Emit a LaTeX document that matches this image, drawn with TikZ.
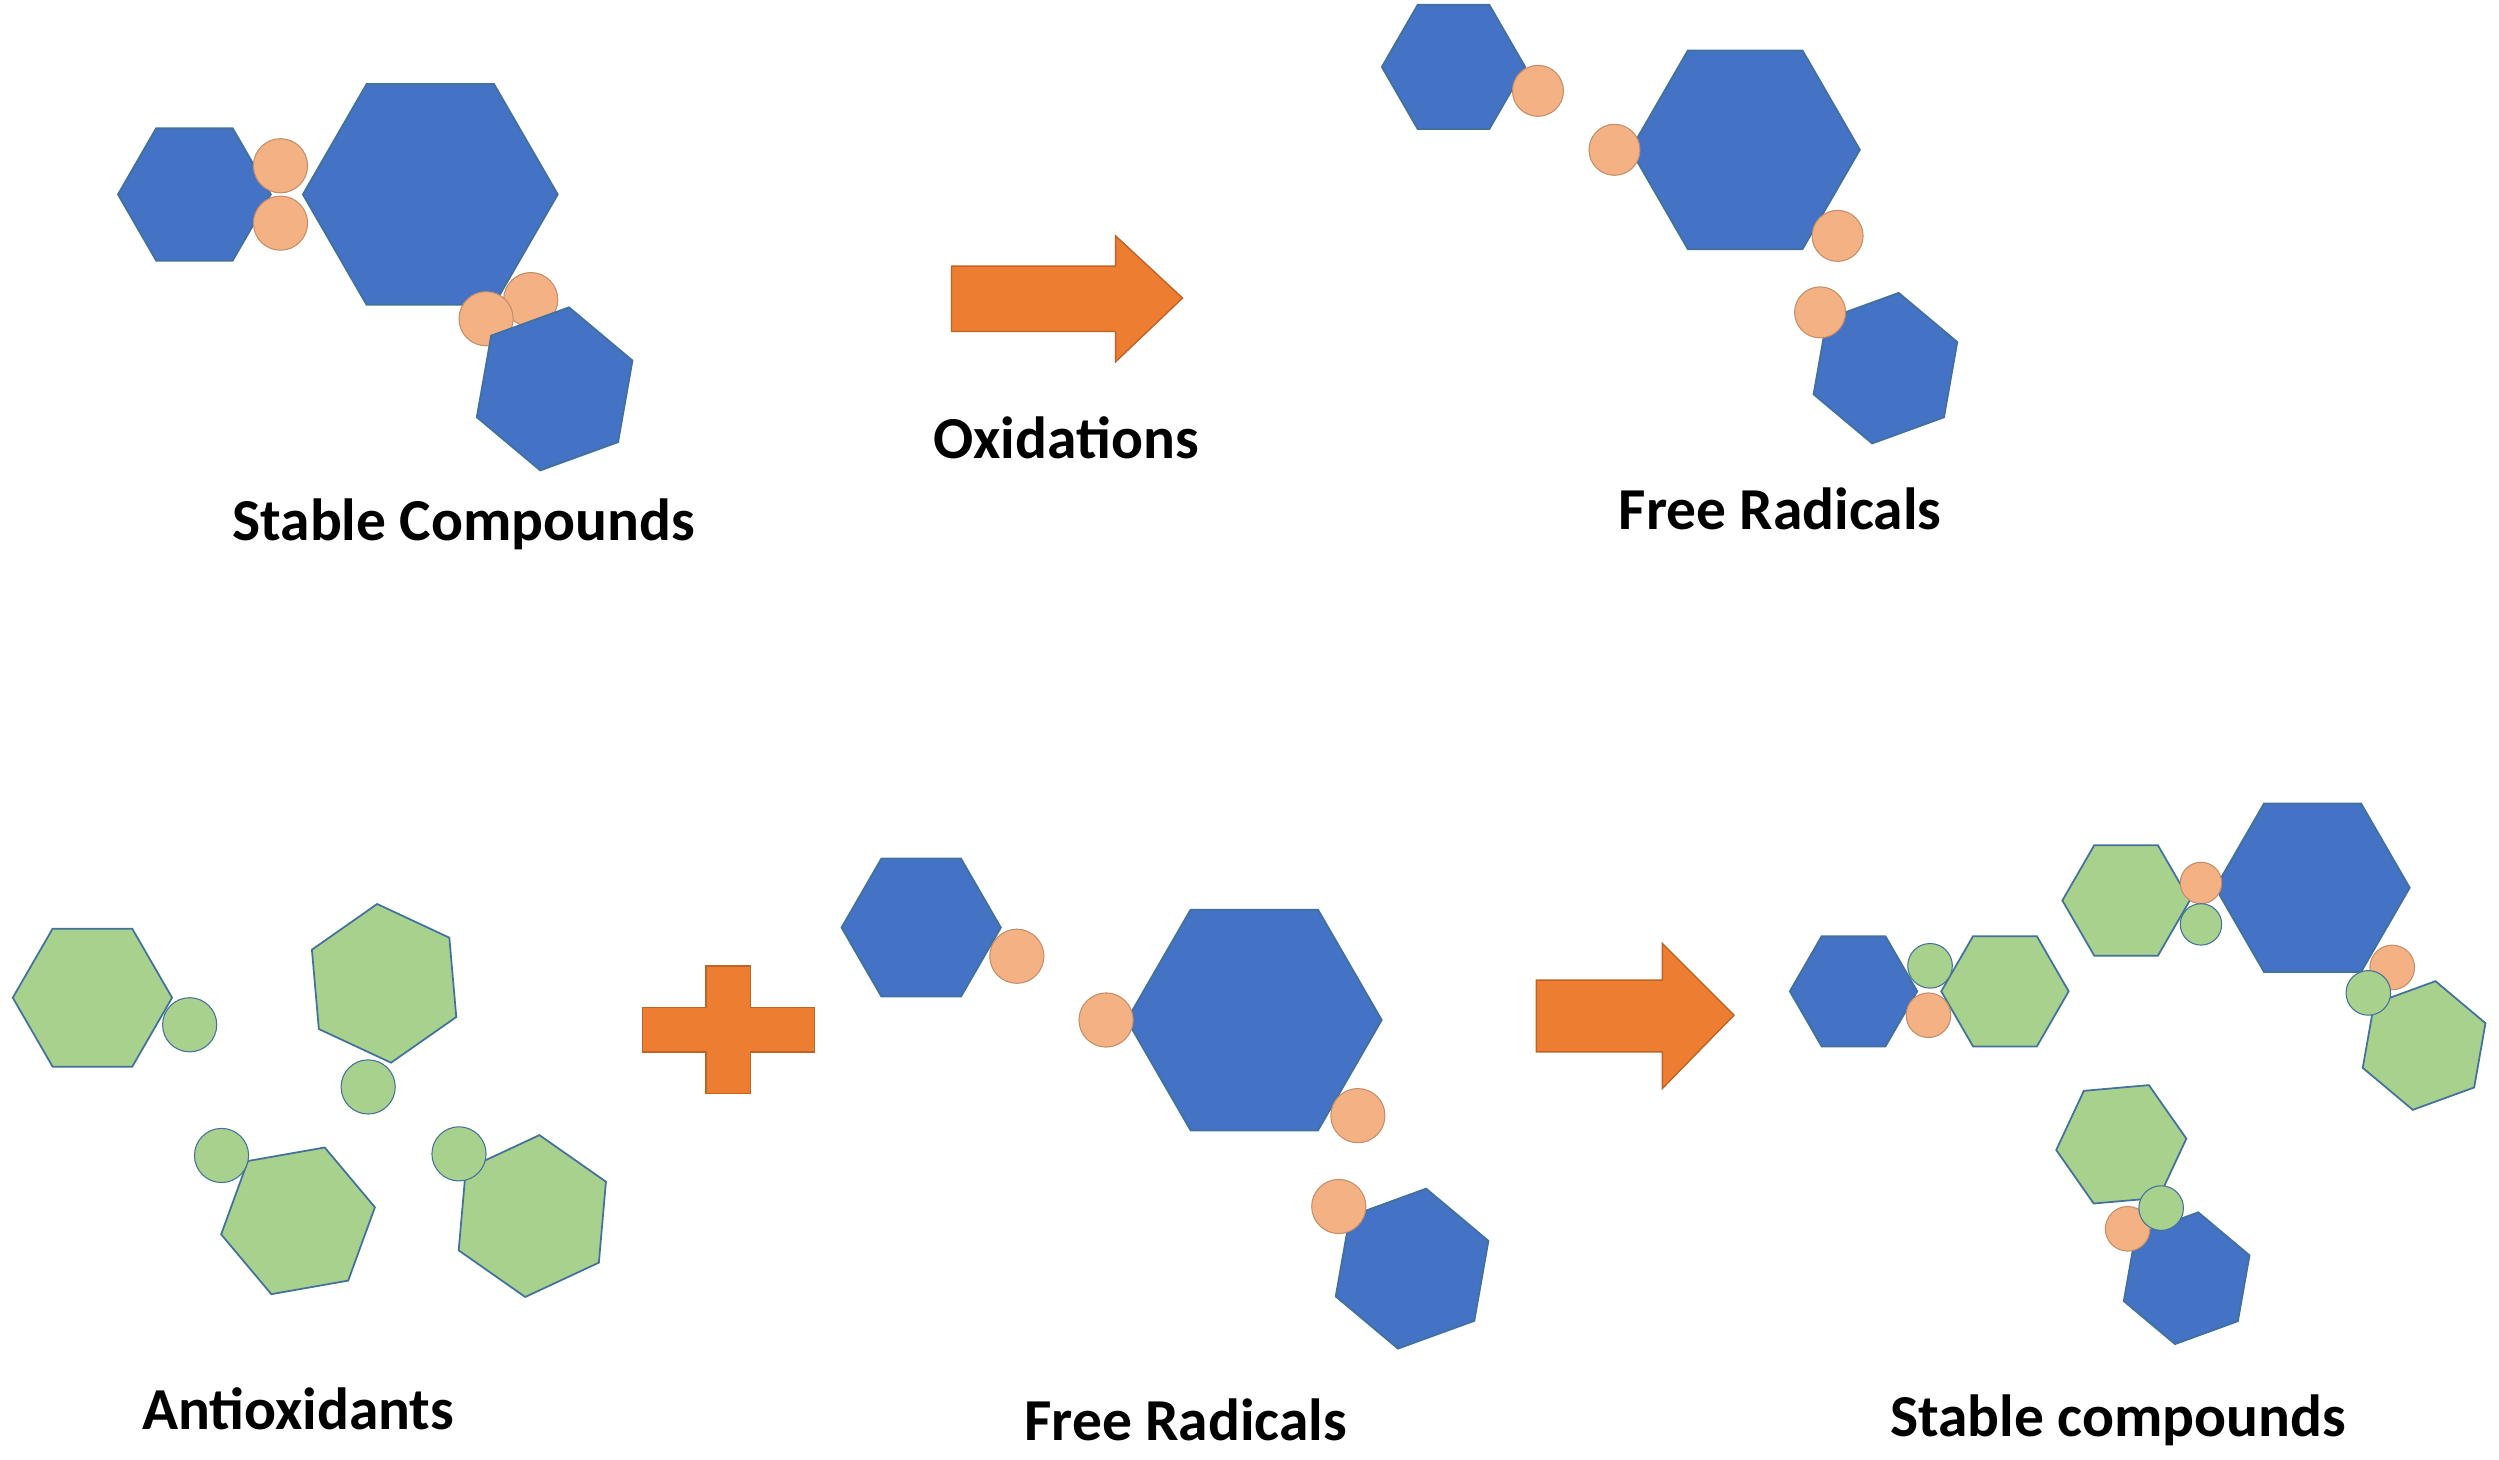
\documentclass[tikz,border=0pt]{standalone}
\usepackage{fontspec}
\setmainfont{Carlito}
\usetikzlibrary{shapes.geometric}
\definecolor{molblue}{HTML}{4472C4}
\definecolor{molgreen}{HTML}{A9D18E}
\definecolor{peach}{HTML}{F4B183}
\definecolor{arrorange}{HTML}{ED7D31}
\definecolor{edge}{HTML}{41719C}
\tikzset{
hex/.style={regular polygon, regular polygon sides=6, inner sep=0pt, draw=edge, line width=0.5pt, minimum size=#1*0.032cm},
bluehex/.style={hex=#1, fill=molblue},
greenhex/.style={hex=#1, fill=molgreen},
ball/.style={circle, inner sep=0pt, draw=edge, line width=0.3pt, minimum size=#1*0.032cm},
pball/.style={ball=#1, fill=peach, draw=peach!80!black},
gball/.style={ball=#1, fill=molgreen},
lbl/.style={font=\bfseries\fontsize{17}{20}\selectfont}
}

\begin{document}
\begin{tikzpicture}[x=0.016cm, y=-0.016cm]
\useasboundingbox (0,0) rectangle (1568,916);

% stable compounds
\node[bluehex=48] (s1) at (122,122) {};
\node[bluehex=80] (s2) at (270,122) {};
\node[pball=17] (s3) at (176,104) {};
\node[pball=17] (s4) at (176,140) {};
\node[pball=17] (s5) at (333,188) {};
\node[pball=17] (s6) at (305,200) {};
\node[bluehex=52, shape border rotate=20] (s7) at (348,244) {};
\node[lbl] (t1) at (291,329) {Stable Compounds};

% oxidation arrow
\fill[arrorange, draw=arrorange!80!black] (597,167) -- (700,167) -- (700,148) -- (742,187) -- (700,227) -- (700,208) -- (597,208) -- cycle;
\node[lbl] (t2) at (669,275) {Oxidations};

% free radicals
\node[bluehex=45] (f1) at (912,42) {};
\node[pball=16] (f2) at (965,57) {};
\node[bluehex=72] (f3) at (1095,94) {};
\node[pball=16] (f4) at (1013,94) {};
\node[pball=16] (f5) at (1153,148) {};
\node[bluehex=48, shape border rotate=20] (f6) at (1183,231) {};
\node[pball=16] (f7) at (1142,196) {};
\node[lbl] (t3) at (1117,319) {Free Radicals};

% antioxidants
\node[greenhex=50] (a1) at (58,626) {};
\node[gball=17] (a2) at (119,643) {};
\node[greenhex=50, shape border rotate=95] (a3) at (241,617) {};
\node[gball=17] (a4) at (231,682) {};
\node[greenhex=49, shape border rotate=10] (a5) at (187,766) {};
\node[gball=17] (a6) at (139,725) {};
\node[greenhex=51, shape border rotate=25] (a7) at (334,763) {};
\node[gball=17] (a8) at (288,724) {};
\node[lbl] (t4) at (187,884) {Antioxidants};

% plus
\fill[arrorange, draw=arrorange!80!black] (443,606) -- (471,606) -- (471,632) -- (511,632) -- (511,660) -- (471,660) -- (471,686) -- (443,686) -- (443,660) -- (403,660) -- (403,632) -- (443,632) -- cycle;

% free radicals
\node[bluehex=50] (r1) at (578,582) {};
\node[pball=17] (r2) at (638,600) {};
\node[bluehex=80] (r3) at (787,640) {};
\node[pball=17] (r4) at (694,640) {};
\node[pball=17] (r5) at (852,700) {};
\node[bluehex=51, shape border rotate=20] (r6) at (886,796) {};
\node[pball=17] (r7) at (840,757) {};
\node[lbl] (t5) at (744,891) {Free Radicals};

% reaction arrow
\fill[arrorange, draw=arrorange!80!black] (964,615) -- (1043,615) -- (1043,592) -- (1088,637) -- (1043,683) -- (1043,660) -- (964,660) -- cycle;

% stable compounds
\node[bluehex=40] (c1) at (1163,622) {};
\node[greenhex=40] (c2) at (1258,622) {};
\node[gball=14] (c3) at (1211,606) {};
\node[pball=14] (c4) at (1210,637) {};
\node[greenhex=40] (c5) at (1334,565) {};
\node[bluehex=61] (c6) at (1451,557) {};
\node[pball=13] (c7) at (1381,554) {};
\node[gball=13] (c8) at (1381,580) {};
\node[greenhex=41, shape border rotate=20] (c9) at (1521,656) {};
\node[pball=14] (c10) at (1501,607) {};
\node[gball=14] (c11) at (1486,623) {};
\node[bluehex=42, shape border rotate=20] (c12) at (1372,802) {};
\node[greenhex=41, shape border rotate=65] (c13) at (1331,718) {};
\node[pball=14] (c14) at (1335,771) {};
\node[gball=14] (c15) at (1356,758) {};
\node[lbl] (t6) at (1329,891) {Stable compounds};
\end{tikzpicture}
\end{document}
